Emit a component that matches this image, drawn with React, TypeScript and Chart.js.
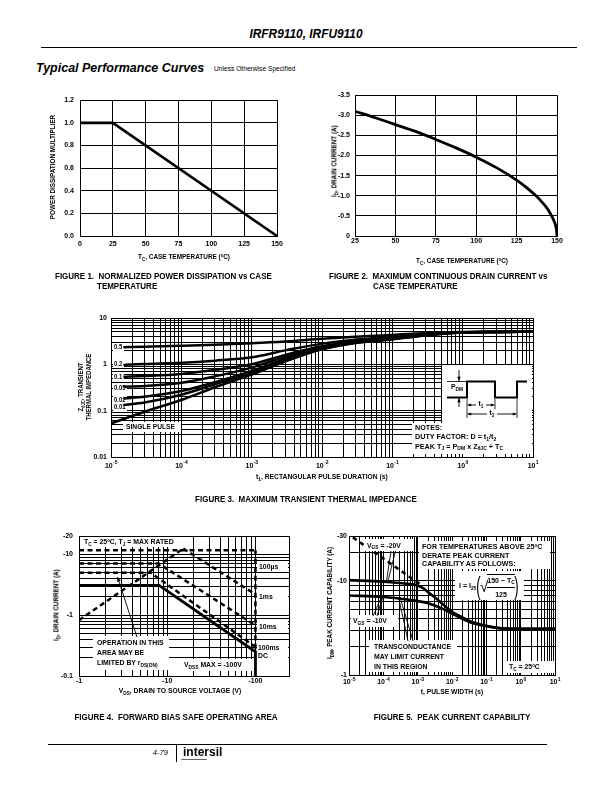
import React, { useEffect, useRef } from "react";
import { Chart, registerables } from "chart.js";
Chart.register(...registerables);

const FONT = "'Liberation Sans', Arial, Helvetica, sans-serif";

// ---------------- DATA ----------------
// Figure 1: normalized power dissipation vs case temperature
const fig1CaseTemp = [0, 25, 150];
const fig1Multiplier = [1.0, 1.0, 0.0];

// Figure 2: max continuous drain current vs case temperature
const fig2CaseTemp = [25, 37.5, 50, 62.5, 75, 87.5, 100, 112.5, 125, 131, 137, 141, 144, 146, 148, 149, 149.6, 150];
const fig2DrainCurrent = [-3.1, -2.94, -2.77, -2.6, -2.4, -2.19, -1.96, -1.7, -1.39, -1.21, -1.0, -0.83, -0.68, -0.55, -0.39, -0.28, -0.17, 0];

// Figure 3: transient thermal impedance
const fig3PulseTime = [1e-5, 3e-5, 1e-4, 3e-4, 1e-3, 3e-3, 1e-2, 3e-2, 1e-1, 3e-1, 1, 3, 10];
const fig3DutyTime = [1.5e-5, 3e-5, 1e-4, 3e-4, 1e-3, 3e-3, 1e-2, 3e-2, 1e-1, 3e-1, 1, 3, 10];
const fig3SinglePulse = [0.053, 0.095, 0.17, 0.32, 0.6, 1.15, 2.1, 2.9, 3.45, 4.2, 4.85, 5.0, 5.05];
const fig3Duty001 = [0.133, 0.15, 0.22, 0.37, 0.66, 1.25, 2.15, 2.95, 3.5, 4.25, 4.9, 5.0, 5.05];
const fig3Duty002 = [0.184, 0.2, 0.265, 0.41, 0.72, 1.3, 2.2, 3.0, 3.55, 4.3, 4.9, 5.0, 5.05];
const fig3Duty005 = [0.33, 0.34, 0.4, 0.55, 0.85, 1.45, 2.3, 3.05, 3.6, 4.3, 4.9, 5.0, 5.05];
const fig3Duty01 = [0.54, 0.56, 0.62, 0.76, 1.0, 1.6, 2.45, 3.15, 3.7, 4.35, 4.95, 5.0, 5.05];
const fig3Duty02 = [0.97, 1.02, 1.08, 1.2, 1.42, 2.0, 2.8, 3.4, 3.9, 4.5, 4.95, 5.0, 5.05];
const fig3Duty05 = [2.33, 2.4, 2.52, 2.65, 2.84, 3.1, 3.55, 3.95, 4.3, 4.75, 5.0, 5.02, 5.05];
const fig3DutyLabels = ["0.5", "0.2", "0.1", "0.05", "0.02", "0.01"];

// Figure 4: forward bias safe operating area (magnitudes of V and A)
const fig4RdsV = [1, 15.2];
const fig4RdsI = [0.83, 12.5];
const fig4Us100V = [1, 100];
const fig4Us100I = [11.7, 11.7];
const fig4Ms1V = [15.2, 100];
const fig4Ms1I = [12.5, 2.2];
const fig4Ms10V = [1, 8, 100];
const fig4Ms10I = [7.1, 7.1, 0.68];
const fig4Ms100V = [1, 6.5, 100];
const fig4Ms100I = [5.0, 5.0, 0.3];
const fig4DcV = [1, 8.1, 100, 100];
const fig4DcI = [3.1, 3.1, 0.25, 0.1];
const fig4VdssV = [100, 100];
const fig4VdssI = [11.7, 0.25];

// Figure 5: peak current capability (magnitudes)
const fig5Time = [1e-5, 1e-4, 5e-4, 1e-3, 1.5e-3, 2e-3, 3e-3, 5e-3, 1e-2, 2e-2, 3e-2, 5e-2, 1e-1, 2e-1, 3e-1, 5e-1, 1, 10];
const fig5Vgs20 = [10.2, 9.8, 9.3, 8.95, 8.3, 7.6, 6.8, 5.8, 4.7, 4.1, 3.8, 3.55, 3.33, 3.18, 3.13, 3.1, 3.1, 3.1];
const fig5Vgs10 = [7.0, 6.75, 6.35, 6.1, 5.95, 5.8, 5.5, 5.1, 4.5, 3.95, 3.7, 3.48, 3.3, 3.17, 3.12, 3.1, 3.1, 3.1];
const fig5TransTime = [1.3e-5, 1.3e-3];
const fig5TransCurrent = [29, 9.0];

// ---------------- HELPERS ----------------
type Box = { left: number; top: number; width: number; height: number };
type Area = { L: number; T: number; R: number; B: number };

const isDecade = (v: number) => Math.abs(Math.log10(v) - Math.round(Math.log10(v))) < 1e-6;

function logGrid(min: number, max: number, extra: number[] = []) {
  const out: number[] = [];
  for (let e = Math.floor(Math.log10(min)); e <= Math.ceil(Math.log10(max)); e++) {
    for (let k = 1; k <= 9; k++) {
      const v = Number((k * Math.pow(10, e)).toPrecision(10));
      if (v >= min * 0.9999 && v <= max * 1.0001) out.push(v);
    }
  }
  extra.forEach((v) => { if (!out.includes(v)) out.push(v); });
  return out.sort((a, b) => a - b);
}

function series(xs: number[], ys: number[], opts: any = {}) {
  return { data: xs.map((x, i) => ({ x, y: ys[i] })), borderColor: "#000", borderWidth: 2.5, pointRadius: 0, fill: false, tension: 0, ...opts };
}

function axis(kind: "x" | "y", size: number, pad: number, extra: any) {
  const { ticks, ...rest } = extra;
  return {
    ...rest,
    grid: { color: "#000", lineWidth: 1, drawTicks: false },
    border: { color: "#000", width: 1 },
    ticks: { color: "#000", font: { family: FONT, size: 7, weight: "bold" }, padding: pad, autoSkip: false, maxRotation: 0, minRotation: 0, ...(ticks || {}) },
    afterFit: (s: any) => { if (kind === "x") s.height = size; else s.width = size; },
  };
}

function makeConfig(box: Box, area: Area, datasets: any[], x: any, y: any, xPad: number, yPad: number, plugins: any[] = []) {
  return {
    type: "line",
    data: { datasets },
    options: {
      animation: false, responsive: false, maintainAspectRatio: false, events: [],
      layout: { padding: { left: 0, top: area.T - box.top, right: box.left + box.width - area.R, bottom: 0 } },
      plugins: { legend: { display: false }, tooltip: { enabled: false } },
      scales: {
        x: axis("x", box.top + box.height - area.B, xPad, x),
        y: axis("y", area.L - box.left, yPad, y),
      },
    },
    plugins,
  };
}

type Draw = (ctx: CanvasRenderingContext2D) => void;
function overlay(box: Box, before?: Draw, after?: Draw) {
  const run = (chart: any, fn?: Draw) => {
    if (!fn) return;
    const ctx = chart.ctx as CanvasRenderingContext2D;
    ctx.save();
    ctx.translate(-box.left, -box.top);
    fn(ctx);
    ctx.restore();
  };
  return { id: "overlay", beforeDatasetsDraw: (c: any) => run(c, before), afterDatasetsDraw: (c: any) => run(c, after) };
}

// decade labels "10^n" on the x scale, placed with the library's own scale
function decadeLabels(baselineOffset: number) {
  return {
    id: "decadeLabels",
    afterDraw(chart: any) {
      const s = chart.scales.x;
      const ctx = chart.ctx as CanvasRenderingContext2D;
      ctx.save();
      ctx.fillStyle = "#000";
      ctx.textBaseline = "alphabetic";
      ctx.textAlign = "left";
      for (const t of s.ticks) {
        if (!isDecade(t.value)) continue;
        const e = String(Math.round(Math.log10(t.value)));
        ctx.font = `bold 7px ${FONT}`;
        const w1 = ctx.measureText("10").width;
        ctx.font = `bold 5px ${FONT}`;
        const w2 = ctx.measureText(e).width;
        const x0 = s.getPixelForValue(t.value) - (w1 + w2) / 2;
        const yb = chart.chartArea.bottom + baselineOffset;
        ctx.font = `bold 7px ${FONT}`;
        ctx.fillText("10", x0, yb);
        ctx.font = `bold 5px ${FONT}`;
        ctx.fillText(e, x0 + w1 + 0.3, yb - 3.3);
      }
      ctx.restore();
    },
  };
}

function white(ctx: CanvasRenderingContext2D, x: number, y: number, w: number, h: number) {
  ctx.fillStyle = "#fff";
  ctx.fillRect(x, y, w, h);
}
function line(ctx: CanvasRenderingContext2D, pts: number[][], w = 0.9) {
  ctx.beginPath();
  ctx.moveTo(pts[0][0], pts[0][1]);
  for (let i = 1; i < pts.length; i++) ctx.lineTo(pts[i][0], pts[i][1]);
  ctx.lineWidth = w;
  ctx.strokeStyle = "#000";
  ctx.setLineDash([]);
  ctx.stroke();
}
function head(ctx: CanvasRenderingContext2D, x1: number, y1: number, x2: number, y2: number, len = 4.5) {
  const a = Math.atan2(y2 - y1, x2 - x1);
  ctx.beginPath();
  ctx.moveTo(x2, y2);
  ctx.lineTo(x2 - len * Math.cos(a - 0.38), y2 - len * Math.sin(a - 0.38));
  ctx.lineTo(x2 - len * Math.cos(a + 0.38), y2 - len * Math.sin(a + 0.38));
  ctx.closePath();
  ctx.fillStyle = "#000";
  ctx.fill();
}
function arrow(ctx: CanvasRenderingContext2D, x1: number, y1: number, x2: number, y2: number, len = 4.5) {
  line(ctx, [[x1, y1], [x2, y2]]);
  head(ctx, x1, y1, x2, y2, len);
}

function ChartCanvas({ box, make }: { box: Box; make: () => any }) {
  const ref = useRef<HTMLCanvasElement>(null);
  useEffect(() => {
    const chart = new Chart(ref.current as HTMLCanvasElement, make());
    return () => chart.destroy();
  }, []);
  return (
    <canvas ref={ref} width={box.width} height={box.height}
      style={{ position: "absolute", left: box.left, top: box.top, width: box.width, height: box.height }} />
  );
}

const Sub = ({ children }: { children: React.ReactNode }) => (
  <span style={{ fontSize: "70%", position: "relative", top: "0.32em" }}>{children}</span>
);
const Sup = ({ children }: { children: React.ReactNode }) => (
  <span style={{ fontSize: "62%", position: "relative", top: "-0.45em" }}>{children}</span>
);

type TxtProps = { x: number; y: number; size?: number; anchor?: "start" | "middle" | "end"; rotate?: boolean; sx?: number; italic?: boolean; weight?: any; children: React.ReactNode };
function Txt({ x, y, size = 7.4, anchor = "start", rotate = false, sx = 0.93, italic = false, weight = "bold", children }: TxtProps) {
  const tx = anchor === "start" ? "0" : anchor === "middle" ? "-50%" : "-100%";
  const origin = anchor === "start" ? "left center" : anchor === "middle" ? "center center" : "right center";
  const style: React.CSSProperties = {
    position: "absolute", left: x, top: y, fontSize: size, fontWeight: weight, fontStyle: italic ? "italic" : "normal",
    whiteSpace: "nowrap", lineHeight: 1, color: "#000",
    transform: rotate ? `translate(-50%,-50%) rotate(-90deg) scaleX(${sx})` : `translate(${tx},-50%) scaleX(${sx})`,
    transformOrigin: rotate ? "center center" : origin,
  };
  return <div style={style}>{children}</div>;
}

// ---------------- FIGURES ----------------
const box1: Box = { left: 40, top: 90, width: 250, height: 165 };
const area1: Area = { L: 80, T: 99, R: 277, B: 236 };
const make1 = () =>
  makeConfig(box1, area1, [series(fig1CaseTemp, fig1Multiplier, { borderWidth: 2.6 })],
    { type: "linear", min: 0, max: 150, ticks: { stepSize: 25 } },
    { type: "linear", min: 0, max: 1.2, ticks: { stepSize: 0.2, callback: (v: any) => Number(v).toFixed(1) } }, 4, 6);

const box2: Box = { left: 315, top: 86, width: 255, height: 169 };
const area2: Area = { L: 355, T: 95, R: 557, B: 236 };
const make2 = () =>
  makeConfig(box2, area2, [series(fig2CaseTemp, fig2DrainCurrent, { borderWidth: 2.8, cubicInterpolationMode: "monotone" })],
    { type: "linear", min: 25, max: 150, ticks: { stepSize: 25 } },
    { type: "linear", min: -3.5, max: 0, reverse: true, ticks: { stepSize: 0.5, callback: (v: any) => (Number(v) === 0 ? "0" : Number(v).toFixed(1)) } }, 1, 5);

const box3: Box = { left: 60, top: 309, width: 488, height: 165 };
const area3: Area = { L: 111, T: 318, R: 533, B: 457 };
const make3 = () =>
  makeConfig(box3, area3, [
    series(fig3PulseTime, fig3SinglePulse, { cubicInterpolationMode: "monotone" }),
    series(fig3DutyTime, fig3Duty001, { cubicInterpolationMode: "monotone" }),
    series(fig3DutyTime, fig3Duty002, { cubicInterpolationMode: "monotone" }),
    series(fig3DutyTime, fig3Duty005, { cubicInterpolationMode: "monotone" }),
    series(fig3DutyTime, fig3Duty01, { cubicInterpolationMode: "monotone" }),
    series(fig3DutyTime, fig3Duty02, { cubicInterpolationMode: "monotone" }),
    series(fig3DutyTime, fig3Duty05, { cubicInterpolationMode: "monotone" }),
  ],
    { type: "logarithmic", min: 1e-5, max: 10, afterBuildTicks: (s: any) => { s.ticks = logGrid(1e-5, 10).map((value) => ({ value })); }, ticks: { callback: () => "" } },
    { type: "logarithmic", min: 0.01, max: 10, afterBuildTicks: (s: any) => { s.ticks = logGrid(0.01, 10).map((value) => ({ value })); }, ticks: { callback: (v: any) => (isDecade(Number(v)) ? String(Number(v)) : "") } },
    3, 4,
    [overlay(box3, (ctx) => {
      [347, 363.5, 376.5, 388, 399.5, 407].forEach((y, i) => white(ctx, 113, y - 4, i >= 3 ? 14 : 11, 8));
      white(ctx, 123, 422, 58, 10);
      white(ctx, 442, 365, 90, 59);
      white(ctx, 412, 423, 120, 31);
    }, (ctx) => {
      line(ctx, [[447, 397.5], [467, 397.5], [467, 381.5], [495, 381.5], [495, 397.5], [517, 397.5], [517, 381.5], [527, 381.5]], 2);
      line(ctx, [[447, 381.5], [466, 381.5]], 0.8);
      arrow(ctx, 459, 370, 459, 381, 4.5);
      arrow(ctx, 459, 407, 459, 398, 4.5);
      line(ctx, [[467, 399], [467, 418]], 0.8);
      line(ctx, [[495, 399], [495, 409]], 0.8);
      line(ctx, [[517, 399], [517, 418]], 0.8);
      arrow(ctx, 476, 405, 467.5, 405, 4);
      arrow(ctx, 486, 405, 494.5, 405, 4);
      arrow(ctx, 487, 414, 467.5, 414, 4);
      arrow(ctx, 497, 414, 516.5, 414, 4);
    }), decadeLabels(10.5)]);

const box4: Box = { left: 40, top: 526, width: 262, height: 165 };
const area4: Area = { L: 79, T: 535, R: 289, B: 676 };
const dash = [5, 3.5];
const make4 = () =>
  makeConfig(box4, area4, [
    series(fig4RdsV, fig4RdsI, { borderDash: dash }),
    series(fig4Us100V, fig4Us100I, { borderDash: dash }),
    series(fig4Ms1V, fig4Ms1I, { borderDash: dash }),
    series(fig4Ms10V, fig4Ms10I, { borderDash: dash }),
    series(fig4Ms100V, fig4Ms100I, { borderDash: dash }),
    series(fig4VdssV, fig4VdssI, { borderDash: dash }),
    series(fig4DcV, fig4DcI, { borderWidth: 2.8 }),
  ],
    { type: "logarithmic", min: 1, max: 240, afterBuildTicks: (s: any) => { s.ticks = logGrid(1, 100, [240]).map((value) => ({ value })); }, ticks: { callback: (v: any) => (isDecade(Number(v)) ? "-" + Number(v) : "") } },
    { type: "logarithmic", min: 0.1, max: 20, afterBuildTicks: (s: any) => { s.ticks = logGrid(0.1, 20).map((value) => ({ value })); }, ticks: { callback: (v: any) => (isDecade(Number(v)) || Number(v) === 20 ? "-" + Number(v) : "") } },
    0.5, 6,
    [overlay(box4, (ctx) => {
      white(ctx, 81, 537, 101, 10);
      white(ctx, 257, 561, 31, 11);
      white(ctx, 257, 592, 31, 11);
      white(ctx, 257, 621, 31, 11);
      white(ctx, 257, 642, 31, 19);
      white(ctx, 93, 636, 76, 34);
      white(ctx, 181, 659, 71, 12);
    }, (ctx) => {
      arrow(ctx, 137, 637, 117.5, 577, 5);
    })]);

const box5: Box = { left: 305, top: 527, width: 265, height: 163 };
const area5: Area = { L: 349, T: 536, R: 555, B: 675 };
const make5 = () =>
  makeConfig(box5, area5, [
    series(fig5Time, fig5Vgs20, { cubicInterpolationMode: "monotone", borderWidth: 2.6 }),
    series(fig5Time, fig5Vgs10, { cubicInterpolationMode: "monotone", borderWidth: 2.6 }),
    series(fig5TransTime, fig5TransCurrent, { borderDash: [4.5, 4], borderWidth: 2.6 }),
  ],
    { type: "logarithmic", min: 1e-5, max: 10, afterBuildTicks: (s: any) => { s.ticks = logGrid(1e-5, 10).map((value) => ({ value })); }, ticks: { callback: () => "" } },
    { type: "logarithmic", min: 1, max: 30, afterBuildTicks: (s: any) => { s.ticks = logGrid(1, 30).map((value) => ({ value })); }, ticks: { callback: (v: any) => (isDecade(Number(v)) || Number(v) === 30 ? "-" + Number(v) : "") } },
    1.5, 2,
    [overlay(box5, undefined, (ctx) => {
      white(ctx, 364, 539, 49, 12);
      white(ctx, 351, 615, 47, 12);
      white(ctx, 419, 541, 131, 28);
      white(ctx, 455, 571, 69, 29);
      white(ctx, 369, 640, 88, 32);
      white(ctx, 506, 661, 48, 12);
      line(ctx, [[391, 551], [386.5, 581]]);
      line(ctx, [[395.5, 551], [388, 581]]);
      line(ctx, [[373, 616], [381, 598]]);
      line(ctx, [[377, 616], [382.5, 598]]);
      line(ctx, [[408, 641], [398.5, 597]]);
      line(ctx, [[413, 641], [400, 597]]);
    }), decadeLabels(9.2)]);

// ---------------- APP ----------------
const CAP = 8.5;
const CAPSX = 0.94;

export default function App() {
  return (
    <div style={{ position: "absolute", left: 0, top: 0, width: 612, height: 792, background: "#fff", fontFamily: FONT, overflow: "hidden" }}>
      {/* header */}
      <Txt x={306} y={34} size={12.5} anchor="middle" italic sx={0.95}>IRFR9110, IRFU9110</Txt>
      <div style={{ position: "absolute", left: 41, top: 47, width: 536, height: 1.3, background: "#000" }} />
      <Txt x={36} y={67} size={13} italic sx={0.96}>Typical Performance Curves</Txt>
      <Txt x={214} y={68} size={7} weight="normal" sx={0.95}>Unless Otherwise Specified</Txt>

      <ChartCanvas box={box1} make={make1} />
      <ChartCanvas box={box2} make={make2} />
      <ChartCanvas box={box3} make={make3} />
      <ChartCanvas box={box4} make={make4} />
      <ChartCanvas box={box5} make={make5} />

      {/* figure 1 */}
      <Txt x={53} y={167} size={7.2} rotate sx={0.88}>POWER DISSIPATION MULTIPLIER</Txt>
      <Txt x={184} y={257} size={7.3} anchor="middle" sx={0.88}>T<Sub>C</Sub>, CASE TEMPERATURE (<Sup>o</Sup>C)</Txt>
      <Txt x={55} y={276} size={CAP} sx={CAPSX}>FIGURE 1.&nbsp; NORMALIZED POWER DISSIPATION vs CASE</Txt>
      <Txt x={97} y={286} size={CAP} sx={CAPSX}>TEMPERATURE</Txt>

      {/* figure 2 */}
      <Txt x={334} y={161} size={7.2} rotate sx={0.88}>I<Sub>D</Sub>, DRAIN CURRENT (A)</Txt>
      <Txt x={462} y={261} size={7.3} anchor="middle" sx={0.88}>T<Sub>C</Sub>, CASE TEMPERATURE (<Sup>o</Sup>C)</Txt>
      <Txt x={329} y={276} size={CAP} sx={CAPSX}>FIGURE 2.&nbsp; MAXIMUM CONTINUOUS DRAIN CURRENT vs</Txt>
      <Txt x={373} y={286} size={CAP} sx={CAPSX}>CASE TEMPERATURE</Txt>

      {/* figure 3 */}
      <Txt x={81} y={387} size={6.8} rotate sx={0.88}>Z<Sub>θJC</Sub>, TRANSIENT</Txt>
      <Txt x={88.5} y={387} size={6.8} rotate sx={0.88}>THERMAL IMPEDANCE</Txt>
      {fig3DutyLabels.map((l, i) => (
        <Txt key={l} x={114} y={[347, 363.5, 376.5, 388, 399.5, 407][i]} size={6.6} sx={0.9}>{l}</Txt>
      ))}
      <Txt x={126} y={427} size={7.2}>SINGLE PULSE</Txt>
      <Txt x={457} y={387} anchor="middle">P<Sub>DM</Sub></Txt>
      <Txt x={481} y={404} anchor="middle">t<Sub>1</Sub></Txt>
      <Txt x={492} y={413} anchor="middle">t<Sub>2</Sub></Txt>
      <Txt x={415} y={427.5} size={7.6} sx={0.95}>NOTES:</Txt>
      <Txt x={415} y={437} size={7.6} sx={0.95}>DUTY FACTOR: D = t<Sub>1</Sub>/t<Sub>2</Sub></Txt>
      <Txt x={415} y={446.5} size={7.6} sx={0.95}>PEAK T<Sub>J</Sub> = P<Sub>DM</Sub> x Z<Sub>θJC</Sub> + T<Sub>C</Sub></Txt>
      <Txt x={322} y={477} size={7.5} anchor="middle" sx={0.9}>t<Sub>1</Sub>, RECTANGULAR PULSE DURATION (s)</Txt>
      <Txt x={306} y={499} size={CAP} anchor="middle" sx={CAPSX}>FIGURE 3.&nbsp; MAXIMUM TRANSIENT THERMAL IMPEDANCE</Txt>

      {/* figure 4 */}
      <Txt x={56} y={605} size={7.2} rotate sx={0.88}>I<Sub>D</Sub>, DRAIN CURRENT (A)</Txt>
      <Txt x={84} y={542}>T<Sub>C</Sub> = 25<Sup>o</Sup>C, T<Sub>J</Sub> = MAX RATED</Txt>
      <Txt x={259} y={566.5}>100µs</Txt>
      <Txt x={259} y={597}>1ms</Txt>
      <Txt x={259} y={626.5}>10ms</Txt>
      <Txt x={258} y={647.5}>100ms</Txt>
      <Txt x={258} y={655.5}>DC</Txt>
      <Txt x={97} y={643}>OPERATION IN THIS</Txt>
      <Txt x={97} y={653}>AREA MAY BE</Txt>
      <Txt x={97} y={663}>LIMITED BY r<Sub>DS(ON)</Sub></Txt>
      <Txt x={184} y={665}>V<Sub>DSS</Sub> MAX = -100V</Txt>
      <Txt x={180} y={691} size={7.5} anchor="middle" sx={0.9}>V<Sub>DS</Sub>, DRAIN TO SOURCE VOLTAGE (V)</Txt>
      <Txt x={176} y={717} size={CAP} anchor="middle" sx={CAPSX}>FIGURE 4.&nbsp; FORWARD BIAS SAFE OPERATING AREA</Txt>

      {/* figure 5 */}
      <Txt x={329.5} y={603} size={7.2} rotate sx={0.88}>I<Sub>DM</Sub>, PEAK CURRENT CAPABILITY (A)</Txt>
      <Txt x={367} y={545.5}>V<Sub>GS</Sub> = -20V</Txt>
      <Txt x={353} y={621}>V<Sub>GS</Sub> = -10V</Txt>
      <Txt x={422} y={547} size={7.5} sx={0.95}>FOR TEMPERATURES ABOVE 25<Sup>o</Sup>C</Txt>
      <Txt x={422} y={555.5} size={7.5} sx={0.95}>DERATE PEAK CURRENT</Txt>
      <Txt x={422} y={564} size={7.5} sx={0.95}>CAPABILITY AS FOLLOWS:</Txt>
      <div style={{ position: "absolute", left: 459, top: 573, height: 26, display: "flex", alignItems: "center", fontSize: 7, fontWeight: "bold", lineHeight: 1 }}>
        <span style={{ whiteSpace: "nowrap" }}>I = I<Sub>25</Sub></span>
        <span style={{ fontSize: 26, fontWeight: "normal", display: "inline-block", transform: "scaleX(0.5)", margin: "0 -3px 0 -2px", lineHeight: 1 }}>(</span>
        <span style={{ fontSize: 15, fontWeight: "normal", lineHeight: 1, marginRight: -1 }}>√</span>
        <span style={{ display: "inline-flex", flexDirection: "column", alignItems: "center", borderTop: "1px solid #000", paddingTop: 2 }}>
          <span style={{ whiteSpace: "nowrap" }}>150 − T<Sub>C</Sub></span>
          <span style={{ borderTop: "1px solid #000", marginTop: 3, paddingTop: 3, width: "100%", textAlign: "center" }}>125</span>
        </span>
        <span style={{ fontSize: 26, fontWeight: "normal", display: "inline-block", transform: "scaleX(0.5)", margin: "0 -2px 0 -3px", lineHeight: 1 }}>)</span>
      </div>
      <Txt x={374} y={647}>TRANSCONDUCTANCE</Txt>
      <Txt x={374} y={657}>MAY LIMIT CURRENT</Txt>
      <Txt x={374} y={667}>IN THIS REGION</Txt>
      <Txt x={509} y={667}>T<Sub>C</Sub> = 25<Sup>o</Sup>C</Txt>
      <Txt x={452} y={692} size={7.5} anchor="middle" sx={0.9}>t, PULSE WIDTH (s)</Txt>
      <Txt x={452} y={717} size={CAP} anchor="middle" sx={CAPSX}>FIGURE 5.&nbsp; PEAK CURRENT CAPABILITY</Txt>

      {/* footer */}
      <div style={{ position: "absolute", left: 48, top: 744, width: 499, height: 1.2, background: "#000" }} />
      <div style={{ position: "absolute", left: 176, top: 744, width: 0.8, height: 18, background: "#000" }} />
      <Txt x={168} y={753} size={8} anchor="end" italic weight="normal" sx={0.95}>4-79</Txt>
      <Txt x={183} y={752} size={12} weight="900" sx={1}>intersil</Txt>
      <div style={{ position: "absolute", left: 181, top: 758.5, width: 26, height: 1.6, background: "#666", borderRadius: 1 }} />
    </div>
  );
}
